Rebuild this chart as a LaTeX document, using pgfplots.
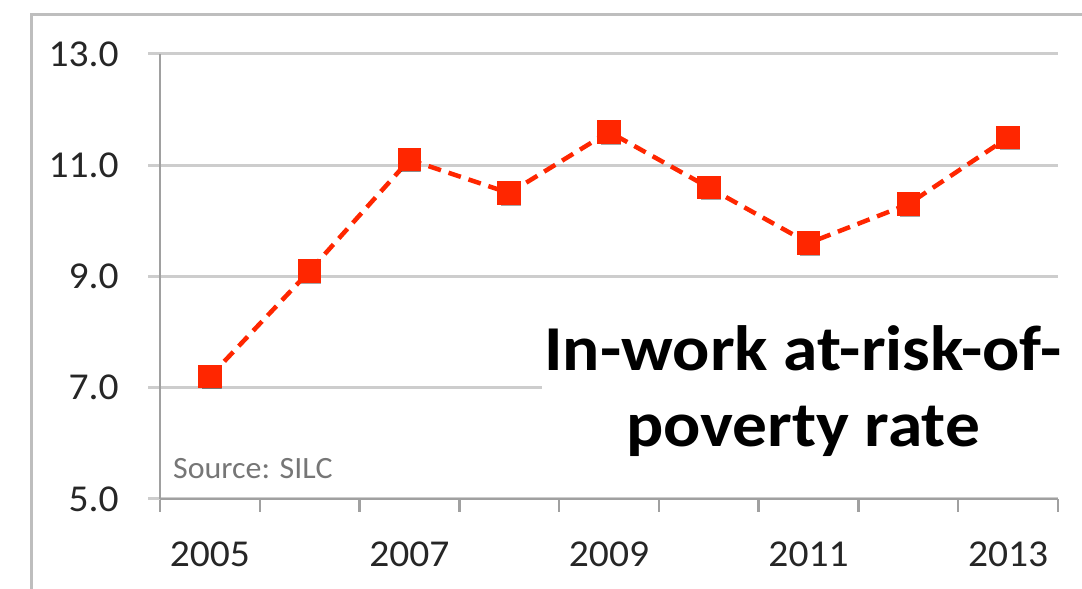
\documentclass[border=0pt]{standalone}
\usepackage{fontspec}
\setmainfont{Carlito}
\usepackage{pgfplots}
\pgfplotsset{compat=1.18}
\definecolor{mred}{RGB}{255,38,0}
\definecolor{gridg}{RGB}{205,205,205}
\definecolor{axisg}{RGB}{160,160,160}
\definecolor{frameg}{RGB}{190,190,190}
\definecolor{srcg}{RGB}{118,118,118}
\begin{document}
\begin{tikzpicture}[x=1pt,y=1pt]
\path[use as bounding box] (0,0) rectangle (1082,589);
\draw[frameg, line width=3pt] (31,-10) -- (31,574) -- (1100,574);
\begin{axis}[
  at={(160pt,90pt)}, anchor=south west,
  scale only axis, width=898pt, height=445pt,
  xmin=-0.5, xmax=8.5, ymin=5, ymax=13,
  axis x line*=bottom, axis y line*=left,
  x axis line style={draw=axisg, line width=2.5pt, -},
  y axis line style={draw=axisg, line width=2pt, -},
  xtick={0,2,4,6,8}, xticklabels={2005,2007,2009,2011,2013},
  minor xtick={-0.5,0.5,...,8.5},
  ytick={5,7,9,11,13}, yticklabels={5.0,7.0,9.0,11.0,13.0},
  tick align=outside,
  major tick length=12pt, minor tick length=13pt,
  every major x tick/.style={draw=none},
  every minor x tick/.style={draw=axisg, line width=2.5pt},
  every major y tick/.style={draw=gridg, line width=3pt},
  ymajorgrids, major grid style={draw=gridg, line width=3pt},
  tick label style={font=\fontsize{38}{40}\selectfont, text=black!85, xscale=1.04},
  xticklabel style={anchor=north, inner sep=0pt, yshift=-31pt},
  yticklabel style={anchor=east, inner sep=0pt, xshift=-28pt},
  clip=false,
]
\addplot[only marks, mark=square*, mark size=9.5pt, mark options={fill=black!45, draw=none, opacity=0.35}, xshift=1.5pt, yshift=-2.5pt]
  coordinates {(0,7.2)(1,9.1)(2,11.1)(3,10.5)(4,11.6)(5,10.6)(6,9.6)(7,10.3)(8,11.5)};
\addplot[mred, line width=4.5pt, dash pattern=on 13pt off 8pt, mark=square*, mark size=9.5pt, mark options={solid, fill=mred, draw=none}]
  coordinates {(0,7.2)(1,9.1)(2,11.1)(3,10.5)(4,11.6)(5,10.6)(6,9.6)(7,10.3)(8,11.5)};
\end{axis}
\fill[white] (542,101) rectangle (1082,294);
\node[anchor=base, inner sep=0pt, xscale=1.085, font=\fontsize{64}{77}\selectfont\bfseries] at (803,218) {In-work at-risk-of-};
\node[anchor=base, inner sep=0pt, xscale=1.085, font=\fontsize{64}{77}\selectfont\bfseries] at (803,142) {poverty rate};
\node[anchor=base west, inner sep=0pt, xscale=1.03, font=\fontsize{31}{36}\selectfont, text=srcg] at (173,110) {Source: SILC};
\end{tikzpicture}
\end{document}
